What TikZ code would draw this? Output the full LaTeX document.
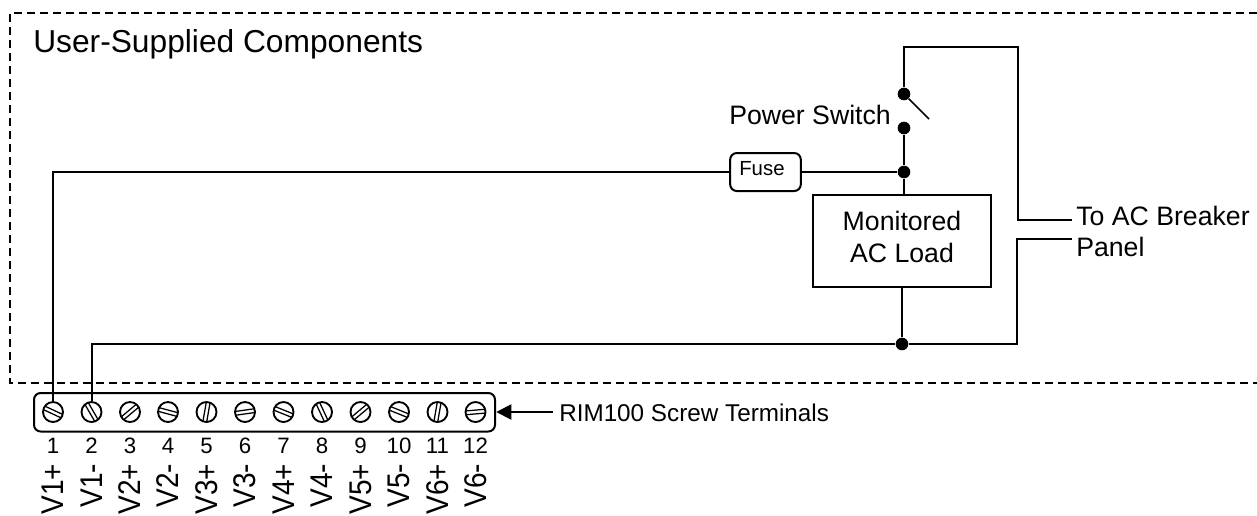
\documentclass[tikz,border=0pt]{standalone}
\usepackage{fontspec}
\setmainfont{Liberation Sans}
\usetikzlibrary{arrows.meta}
\tikzset{
  wire/.style={line width=1.5pt,line join=miter},
  boxframe/.style={draw,line width=1.5pt},
  dot/.style={circle,fill=black,inner sep=0pt,minimum size=9.5pt},
  screw/.style={circle,draw,line width=1.4pt,inner sep=0pt,minimum size=15pt},
  slot/.style={line width=0.95pt},
  lbl/.style={inner sep=0pt,font=\fontsize{20pt}{24pt}\selectfont,align=left},
  num/.style={inner sep=0pt,font=\fontsize{16.7pt}{20pt}\selectfont},
  vlab/.style={inner sep=0pt,rotate=90,anchor=east,font=\fontsize{21pt}{24pt}\selectfont},
}
\newcommand{\screwat}[4]{% name, x, angle, number
  \node[screw] (#1) at (#2,412) {};
  \begin{scope}[shift={(#2,412)},rotate=#3]
    \draw[slot] (-9.6,-1.9) -- (9.6,-1.9);
    \draw[slot] (-9.6,1.9) -- (9.6,1.9);
  \end{scope}
  \node[num,anchor=base] at (#2,453.5) {#4};
}
\begin{document}
\begin{tikzpicture}[x=0.75pt,y=-0.75pt]
\useasboundingbox (0,0) rectangle (1257,515);
\fill[white] (0,0) rectangle (1257,515);
% dashed boundary
\draw[line width=1.5pt,dash pattern=on 6pt off 3.75pt] (1257,13) -- (10,13) -- (10,382.6) -- (1257,382.6);
\node[inner sep=0pt,anchor=base west,font=\fontsize{23.8pt}{28pt}\selectfont] at (33,52) {User-Supplied Components};
% terminal block
\draw[boxframe,rounded corners=5pt] (34,393) rectangle (495,431.5);
\node[inner sep=0pt,minimum size=0pt] (blockedge) at (496,412) {};
\screwat{s1}{53}{-25}{1}
\screwat{s2}{91.5}{-60}{2}
\screwat{s3}{130}{40}{3}
\screwat{s4}{168}{-15}{4}
\screwat{s5}{206.5}{80}{5}
\screwat{s6}{245}{8}{6}
\screwat{s7}{283.5}{-22}{7}
\screwat{s8}{322}{-65}{8}
\screwat{s9}{360.5}{40}{9}
\screwat{s10}{399}{-22}{10}
\screwat{s11}{437.5}{80}{11}
\screwat{s12}{475.5}{5}{12}
\foreach \xx/\tt in {53/V1+,91.5/V1-,130/V2+,168/V2-,206.5/V3+,245/V3-,283.5/V4+,322/V4-,360.5/V5+,399/V5-,437.5/V6+,475.5/V6-}
  \node[vlab] at (\xx,463.5) {\scalebox{1}[1.12]{\tt}};
% RIM label
\node[lbl,anchor=base west,font=\fontsize{18.2pt}{20pt}\selectfont] (rim) at (559,421) {RIM100 Screw Terminals};
\draw[wire,-{Triangle[length=11.25pt,width=11.25pt]}] (rim.west) ++(-6,0) coordinate (rimstart) (rimstart|-blockedge) -- (blockedge);
% components
\node[boxframe,rounded corners=5pt,minimum width=53pt,minimum height=28.5pt,inner sep=0pt] (fuse) at (765.5,172) {};
\node[inner sep=0pt,anchor=base west,font=\fontsize{15.3pt}{17pt}\selectfont] at (739,175) {Fuse};
\node[boxframe,minimum width=133pt,minimum height=68.5pt,inner sep=0pt] (load) at (902,241) {};
\node[inner sep=0pt,align=center,font=\fontsize{20pt}{24pt}\selectfont] (loadtext) at (902,236.5) {Monitored\\AC Load};
\node[dot] (j1) at (904,172) {};
\node[dot] (sw1) at (904,94) {};
\node[dot] (sw2) at (904,128) {};
\node[dot] (j2) at (902,344) {};
\coordinate (armend) at (929,119);
\coordinate (t1) at (1072,220);
\coordinate (t2) at (1072,239);
\coordinate (top1) at (904,47);
\node[lbl,anchor=base west] at (729,124) {Power Switch};
\node[lbl,anchor=base west] at (1076,225) {To AC Breaker};
\node[lbl,anchor=base west] at (1076,256) {Panel};
% wires
\draw[wire] (s1.north) -- (s1.north|-fuse.west) -- (fuse.west);
\draw[wire] (fuse.east) -- (j1);
\draw[wire] (sw2) -- (j1);
\draw[wire] (j1) -- (j1|-load.north);
\draw[wire] (sw1) -- (top1) -- (1018,47) -- (1018,220) -- (t1);
\draw[wire,line width=1.2pt] (sw1) -- (armend);
\draw[wire] (j2|-load.south) -- (j2);
\draw[wire] (s2.north) -- (s2.north|-j2) -- (j2);
\draw[wire] (j2) -- (1017,344) -- (1017,239) -- (t2);
\end{tikzpicture}
\end{document}
